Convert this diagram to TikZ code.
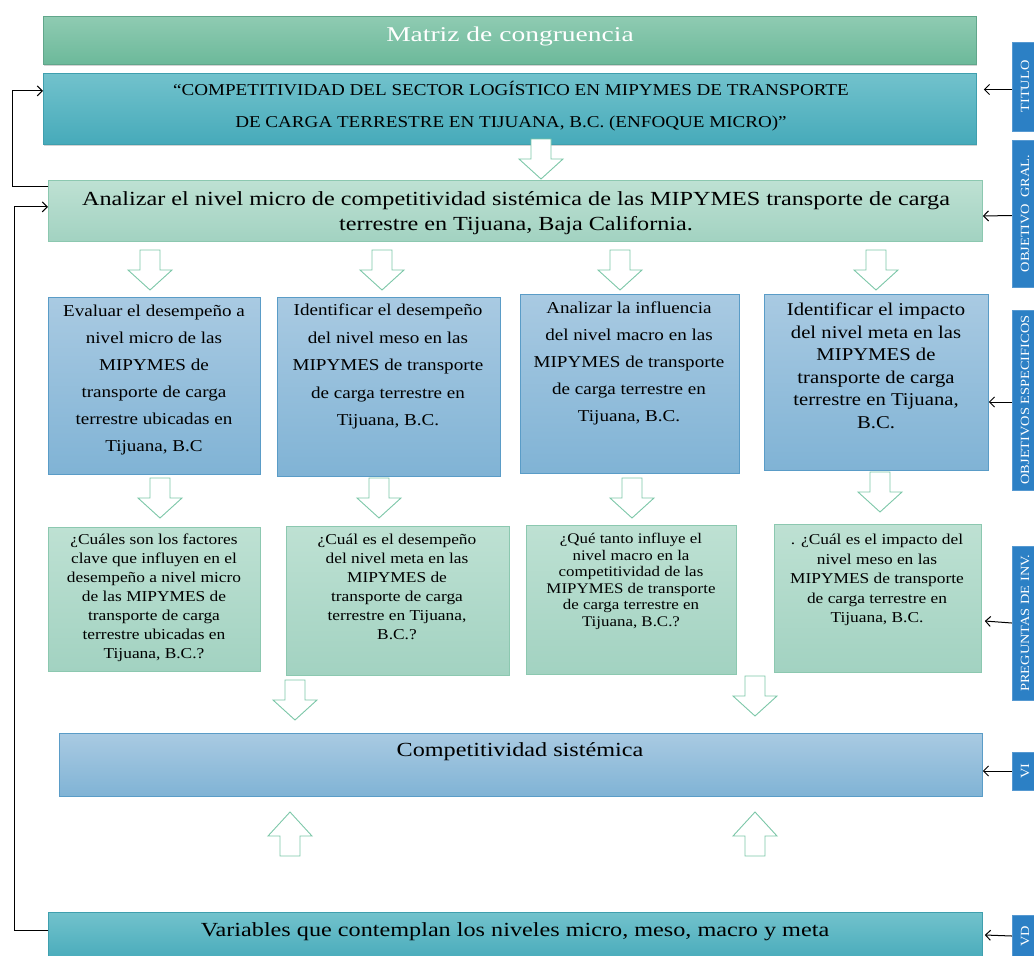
\documentclass[tikz,border=0pt]{standalone}
\usepackage{fontspec}
\setmainfont{Liberation Serif}[FakeStretch=1.15]
\newfontfamily\wideserif{Liberation Serif}[FakeStretch=1.21]
\newfontfamily\headserif{Liberation Serif}[FakeStretch=1.31]
\usetikzlibrary{arrows.meta,shadows}

\definecolor{hdgreenT}{HTML}{8FCBB2}
\definecolor{hdgreenB}{HTML}{6CB99A}
\definecolor{tealT}{HTML}{72C2CC}
\definecolor{tealB}{HTML}{46AABA}
\definecolor{tealD}{HTML}{3F9FAE}
\definecolor{mintT}{HTML}{BEE1D3}
\definecolor{mintB}{HTML}{A2D2C1}
\definecolor{mintD}{HTML}{8CC8B0}
\definecolor{skyT}{HTML}{A9CAE2}
\definecolor{skyB}{HTML}{80B3D5}
\definecolor{skyD}{HTML}{5A9CC7}
\definecolor{tagblue}{HTML}{2C80C5}
\definecolor{arrowgreen}{HTML}{7CC7A8}

\tikzset{
  panel/.style={rectangle, anchor=north west, inner sep=0pt, line width=0.8pt},
  headbox/.style={panel, draw=hdgreenB!90!black, top color=hdgreenT, bottom color=hdgreenB,
    drop shadow={opacity=0.35, shadow xshift=1pt, shadow yshift=-2pt}},
  tealbox/.style={panel, draw=tealD, top color=tealT, bottom color=tealB,
    drop shadow={opacity=0.35, shadow xshift=1pt, shadow yshift=-2pt}},
  mintbox/.style={panel, draw=mintD, top color=mintT, bottom color=mintB},
  skybox/.style={panel, draw=skyD, top color=skyT, bottom color=skyB},
  txt/.style={inner sep=0pt, align=center, anchor=north},
  tag/.style={rectangle, fill=tagblue, draw=tagblue!80!white, rotate=90, inner sep=0pt,
    text=white, font=\fontsize{12.5}{12.5}\selectfont},
  conn/.style={line width=1pt, -{Straight Barb[length=5pt,width=10pt]}},
  hollow/.style={draw=arrowgreen, fill=white, line width=0.9pt, line join=miter},
  arrdown/.pic={\draw[hollow] (-10,0) -- (10,0) -- (10,20) -- (22,20) -- (0,40) -- (-22,20) -- (-10,20) -- cycle;},
  arrup/.pic={\draw[hollow] (-10,0) -- (10,0) -- (10,-20) -- (22,-20) -- (0,-44) -- (-22,-20) -- (-10,-20) -- cycle;},
}

\begin{document}
\begin{tikzpicture}[x=1pt,y=-1pt]
\useasboundingbox (0,0) rectangle (1034,956);

% header rows
\node[headbox, minimum width=933, minimum height=48] (head) at (43,16) {};
\node[txt, anchor=center, text=white, font=\headserif\fontsize{21}{21}\selectfont] (headt) at (510,36) {Matriz de congruencia};

\node[tealbox, minimum width=933, minimum height=71] (tit) at (43,73) {};
\node[txt, font=\fontsize{16.6}{32}\selectfont] (titt) at (511,81)
  {“COMPETITIVIDAD DEL SECTOR LOGÍSTICO EN MIPYMES DE TRANSPORTE\\ DE CARGA TERRESTRE EN TIJUANA, B.C. (ENFOQUE MICRO)”};

\pic at (541,139) {arrdown};

% general objective
\node[mintbox, minimum width=934, minimum height=61] (og) at (48,180) {};
\node[txt, font=\wideserif\fontsize{20}{25}\selectfont] (ogt) at (516,191)
  {Analizar el nivel micro de competitividad sistémica de las MIPYMES transporte de carga\\ terrestre en Tijuana, Baja California.};

\pic at (150,250) {arrdown};
\pic at (382,250) {arrdown};
\pic at (620,250) {arrdown};
\pic at (876,250) {arrdown};

% specific objectives
\node[skybox, minimum width=212, minimum height=177] (o1) at (48,297) {};
\node[txt, font=\fontsize{16.6}{27}\selectfont] (o1t) at (154,305)
  {Evaluar el desempeño a\\ nivel micro de las\\ MIPYMES de\\ transporte de carga\\ terrestre ubicadas en\\ Tijuana, B.C};

\node[skybox, minimum width=223, minimum height=179] (o2) at (277,297) {};
\node[txt, font=\fontsize{16.6}{27.5}\selectfont] (o2t) at (388,304)
  {Identificar el desempeño\\ del nivel meso en las\\ MIPYMES de transporte\\ de carga terrestre en\\ Tijuana, B.C.};

\node[skybox, minimum width=219, minimum height=179] (o3) at (520,294) {};
\node[txt, font=\fontsize{16.6}{27}\selectfont] (o3t) at (629,302)
  {Analizar la influencia\\ del nivel macro en las\\ MIPYMES de transporte\\ de carga terrestre en\\ Tijuana, B.C.};

\node[skybox, minimum width=224, minimum height=176] (o4) at (764,294) {};
\node[txt, font=\fontsize{18}{22.5}\selectfont] (o4t) at (876,303)
  {Identificar el impacto\\ del nivel meta en las\\ MIPYMES de\\ transporte de carga\\ terrestre en Tijuana,\\ B.C.};

\pic at (160,478) {arrdown};
\pic at (379,478) {arrdown};
\pic at (632,478) {arrdown};
\pic at (880,472) {arrdown};

% research questions
\node[mintbox, minimum width=212, minimum height=144] (q1) at (48,527) {};
\node[txt, font=\fontsize{15.1}{19}\selectfont] (q1t) at (154,534)
  {¿Cuáles son los factores\\ clave que influyen en el\\ desempeño a nivel micro\\ de las MIPYMES de\\ transporte de carga\\ terrestre ubicadas en\\ Tijuana, B.C.?};

\node[mintbox, minimum width=223, minimum height=149] (q2) at (286,526) {};
\node[txt, font=\fontsize{15.1}{19}\selectfont] (q2t) at (397,534)
  {¿Cuál es el desempeño\\ del nivel meta en las\\ MIPYMES de\\ transporte de carga\\ terrestre en Tijuana,\\ B.C.?};

\node[mintbox, minimum width=210, minimum height=149] (q3) at (526,525) {};
\node[txt, font=\fontsize{14.7}{16.5}\selectfont] (q3t) at (631,533)
  {¿Qué tanto influye el\\ nivel macro en la\\ competitividad de las\\ MIPYMES de transporte\\ de carga terrestre en\\ Tijuana, B.C.?};

\node[mintbox, minimum width=207, minimum height=148] (q4) at (774,524) {};
\node[txt, font=\fontsize{15.1}{19.5}\selectfont] (q4t) at (877,534)
  {. ¿Cuál es el impacto del\\ nivel meso en las\\ MIPYMES de transporte\\ de carga terrestre en\\ Tijuana, B.C.};

\pic at (295,680) {arrdown};
\pic at (755,676) {arrdown};

% independent variable
\node[skybox, minimum width=923, minimum height=63] (vi) at (59,733) {};
\node[txt, anchor=center, font=\wideserif\fontsize{20}{20}\selectfont] (vit) at (520,752) {Competitividad sistémica};

\pic at (290,856) {arrup};
\pic at (755,856) {arrup};

% dependent variable
\node[tealbox, minimum width=934, minimum height=50] (vd) at (48,912) {};
\node[txt, anchor=center, font=\wideserif\fontsize{20}{20}\selectfont] (vdt) at (515,932) {Variables que contemplan los niveles micro, meso, macro y meta};

% feedback connectors on the left
\draw[conn] ([yshift=-6pt]og.north west) -- ++(-36,0) |- ([yshift=18pt]tit.west);
\draw[conn] ([yshift=-18pt]vd.north west) -- ++(-34,0) |- ([yshift=4pt]og.west);

% section tags on the right
\node[tag, minimum width=89, minimum height=26] (tg1) at (1025,86.5) {TITULO};
\node[tag, minimum width=147, minimum height=26] (tg2) at (1025,213.5) {OBJETIVO\enspace GRAL.};
\node[tag, minimum width=180, minimum height=26] (tg3) at (1025,400) {OBJETIVOS ESPECIFICOS};
\node[tag, minimum width=154, minimum height=26] (tg4) at (1025,623) {PREGUNTAS DE INV.};
\node[tag, minimum width=38, minimum height=26] (tg5) at (1025,771) {VI};
\node[tag, minimum width=42, minimum height=26] (tg6) at (1025,936) {VD};

\draw[conn] ([yshift=-3pt]tg1.north) -- ++(-28,0) coordinate (e1);
\draw[conn] ([yshift=-2pt]tg2.north) -- (og.east |- 0,216);
\draw[conn] ([yshift=-2pt]tg3.north) -- (o4.east |- 0,402);
\draw[conn] (tg4.north) -- ([xshift=3pt]q4.east |- 0,621);
\draw[conn] (tg5.north) -- (vi.east |- 0,771);
\draw[conn] (tg6.north) -- ([xshift=2pt]vd.east |- 0,935);
\end{tikzpicture}
\end{document}
